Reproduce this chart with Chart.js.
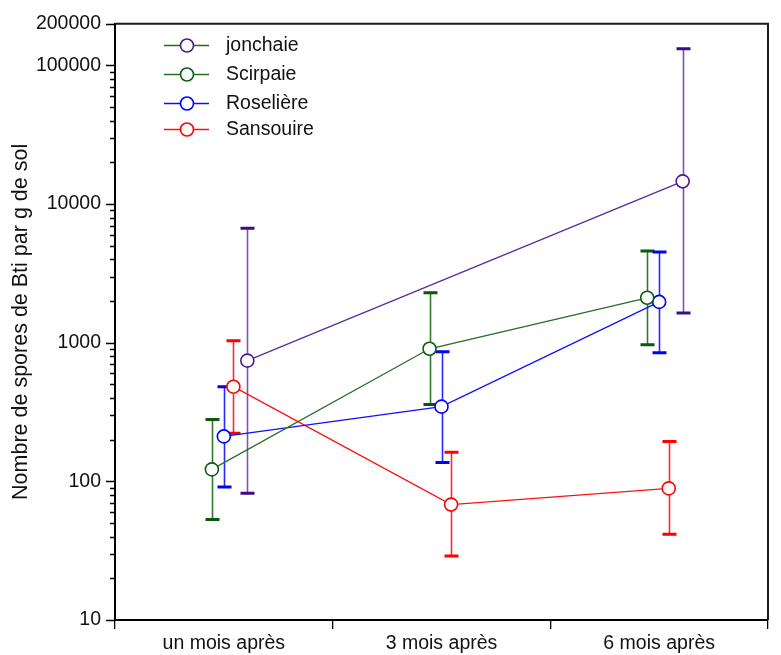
<!DOCTYPE html>
<html>
<head>
<meta charset="utf-8">
<script src="https://cdn.jsdelivr.net/npm/chart.js@4/dist/chart.umd.min.js"></script>
<style>
    html, body { margin: 0; padding: 0; background: #ffffff; }
    #wrap { width: 781px; height: 655px; position: relative; }
</style>
</head>
<body>
<div id="wrap"><canvas id="myChart"></canvas></div>
<script>
const categories = ['un mois après', '3 mois après', '6 mois après'];

// spores per g of soil: mean, lower and upper bound of each error bar
const jonchaie = [743, null, 14600];
const jonchaieLow = [82, null, 1640];
const jonchaieHigh = [6700, null, 132000];

const scirpaie = [122, 905, 2110];
const scirpaieLow = [53, 358, 968];
const scirpaieHigh = [279, 2290, 4590];

const roseliere = [211, 346, 1970];
const roselereLow = [91, 137, 847];
const roseliereHigh = [482, 861, 4520];

const sansouire = [482, 68, 89];
const sansouireLow = [222, 29, 41.6];
const sansouireHigh = [1033, 162, 194];

const yMajorTicks = [10, 100, 1000, 10000, 100000, 200000];

const FONT = '"Liberation Sans", Arial, Helvetica, sans-serif';

// points of one group are spread a little around the category centre
function series(values, low, high, shift) {
    return values.map((v, i) => ({
        x: i + 0.5 + shift,
        y: v,
        low: low[i],
        high: high[i]
    }));
}

function makeDataset(label, points, style) {
    return {
        label: label,
        data: points,
        xAxisID: 'xv',
        yAxisID: 'y',
        borderColor: style.line,
        backgroundColor: '#ffffff',
        pointBorderColor: style.marker,
        pointBackgroundColor: '#ffffff',
        pointRadius: 6.5,
        pointHoverRadius: 6.5,
        pointBorderWidth: 1.6,
        borderWidth: 1.3,
        spanGaps: true,
        tension: 0,
        errColor: style.err,
        capColor: style.cap,
        legendLine: style.legendLine || style.line
    };
}

const datasets = [
    makeDataset('jonchaie', series(jonchaie, jonchaieLow, jonchaieHigh, 0.108),
        {line: '#5a2b9c', marker: '#4a1a8e', err: '#7b55b5', cap: '#3c0c86', legendLine: '#1f6e1f'}),
    makeDataset('Scirpaie', series(scirpaie, scirpaieLow, scirpaieHigh, -0.055),
        {line: '#247024', marker: '#0d5c0d', err: '#2f7a2f', cap: '#0a560a'}),
    makeDataset('Roselière', series(roseliere, roselereLow, roseliereHigh, 0.0),
        {line: '#1010ff', marker: '#0000ff', err: '#2828ff', cap: '#0000ff'}),
    makeDataset('Sansouire', series(sansouire, sansouireLow, sansouireHigh, 0.044),
        {line: '#ff1010', marker: '#ff0000', err: '#ff2a2a', cap: '#ff0000'})
];

// vertical error bars with thick caps, under the markers
const errorBarPlugin = {
    id: 'errorBars',
    beforeDatasetsDraw(chart) {
        const ctx = chart.ctx;
        const xs = chart.scales.xv;
        const ys = chart.scales.y;
        ctx.save();
        chart.data.datasets.forEach((ds) => {
            ds.data.forEach((p) => {
                if (p.y === null) return;
                const x = Math.round(xs.getPixelForValue(p.x)) + 0.5;
                const yHi = ys.getPixelForValue(p.high);
                const yLo = ys.getPixelForValue(p.low);
                ctx.strokeStyle = ds.errColor;
                ctx.lineWidth = 1.6;
                ctx.beginPath();
                ctx.moveTo(x, yHi);
                ctx.lineTo(x, yLo);
                ctx.stroke();
                ctx.strokeStyle = ds.capColor;
                ctx.lineWidth = 3;
                ctx.beginPath();
                ctx.moveTo(x - 7, yHi);
                ctx.lineTo(x + 7, yHi);
                ctx.moveTo(x - 7, yLo);
                ctx.lineTo(x + 7, yLo);
                ctx.stroke();
            });
        });
        ctx.restore();
    }
};

// log axis tick marks: long ones on decades, short ones on 2..9
const logTicksPlugin = {
    id: 'logTicks',
    afterDraw(chart) {
        const ctx = chart.ctx;
        const ys = chart.scales.y;
        const left = chart.chartArea.left;
        ctx.save();
        ctx.strokeStyle = '#000000';
        ctx.lineWidth = 1.3;
        ctx.beginPath();
        yMajorTicks.forEach((v) => {
            const y = Math.round(ys.getPixelForValue(v)) + 0.5;
            ctx.moveTo(left - 9, y);
            ctx.lineTo(left, y);
        });
        for (let d = 10; d < 100000; d *= 10) {
            for (let k = 2; k <= 9; k++) {
                const y = Math.round(ys.getPixelForValue(k * d)) + 0.5;
                ctx.moveTo(left - 5, y);
                ctx.lineTo(left, y);
            }
        }
        ctx.stroke();

        // box around the plot area
        const a = chart.chartArea;
        ctx.strokeStyle = '#1a1a1a';
        ctx.lineWidth = 2;
        ctx.beginPath();
        ctx.moveTo(a.left, a.top);
        ctx.lineTo(a.right, a.top);
        ctx.lineTo(a.right, a.bottom);
        ctx.stroke();
        ctx.restore();
    }
};

// legend in the upper left corner of the plot
const legendPlugin = {
    id: 'boxLegend',
    afterDraw(chart) {
        const ctx = chart.ctx;
        const rows = [45, 74, 103, 129];
        ctx.save();
        ctx.font = '19.5px ' + FONT;
        ctx.textBaseline = 'middle';
        chart.data.datasets.forEach((ds, i) => {
            const y = rows[i] + 0.5;
            ctx.strokeStyle = ds.legendLine;
            ctx.lineWidth = 1.3;
            ctx.beginPath();
            ctx.moveTo(164, y);
            ctx.lineTo(209, y);
            ctx.stroke();
            ctx.fillStyle = '#ffffff';
            ctx.strokeStyle = ds.pointBorderColor;
            ctx.lineWidth = 1.6;
            ctx.beginPath();
            ctx.arc(187, y, 6.5, 0, Math.PI * 2);
            ctx.fill();
            ctx.stroke();
            ctx.fillStyle = '#111111';
            ctx.fillText(ds.label, 226, y);
        });
        ctx.restore();
    }
};

const options = {
    responsive: true,
    maintainAspectRatio: false,
    animation: false,
    events: [],
    layout: {
        padding: {left: 0, top: 23, right: 13, bottom: 0}
    },
    scales: {
        x: {
            type: 'category',
            labels: categories,
            offset: true,
            position: 'bottom',
            grid: {
                offset: true,
                drawOnChartArea: false,
                drawTicks: true,
                tickLength: 9,
                color: '#000000',
                lineWidth: 1.3
            },
            border: {display: true, color: '#000000', width: 2},
            ticks: {
                color: '#111111',
                padding: 3,
                maxRotation: 0,
                font: {family: FONT, size: 19.5}
            },
            afterFit(scale) {
                scale.height = 35;
            }
        },
        xv: {
            type: 'linear',
            display: false,
            min: 0,
            max: 3
        },
        y: {
            type: 'logarithmic',
            min: 10,
            max: 200000,
            position: 'left',
            grid: {display: false, drawTicks: false},
            border: {display: true, color: '#000000', width: 2},
            afterBuildTicks(scale) {
                scale.ticks = yMajorTicks.map((v) => ({value: v, major: true}));
            },
            ticks: {
                color: '#111111',
                padding: 14,
                font: {family: FONT, size: 19.5, lineHeight: 1},
                callback: (value) => String(value)
            },
            title: {
                display: true,
                text: 'Nombre de spores de Bti par g de sol',
                color: '#111111',
                padding: {top: 8, bottom: 0},
                font: {family: FONT, size: 21.5}
            },
            afterFit(scale) {
                scale.width = 115;
            }
        }
    },
    plugins: {
        legend: {display: false},
        tooltip: {enabled: false}
    }
};

new Chart(document.getElementById('myChart'), {
    type: 'line',
    data: {datasets: datasets},
    options: options,
    plugins: [errorBarPlugin, logTicksPlugin, legendPlugin]
});
</script>
</body>
</html>
